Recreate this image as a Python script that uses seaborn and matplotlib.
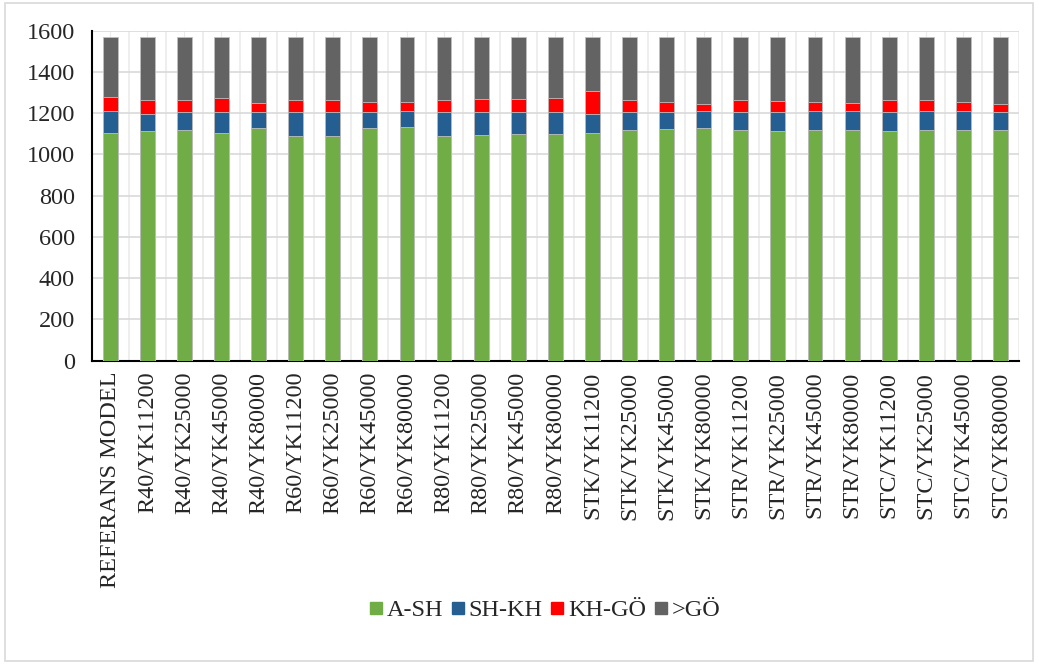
import numpy as np
import pandas as pd
import matplotlib
matplotlib.use("Agg")
import matplotlib.pyplot as plt
from matplotlib.patches import Rectangle
from matplotlib.lines import Line2D
import seaborn as sns

categories = ['REFERANS MODEL',
              'R40/YK11200', 'R40/YK25000', 'R40/YK45000', 'R40/YK80000',
              'R60/YK11200', 'R60/YK25000', 'R60/YK45000', 'R60/YK80000',
              'R80/YK11200', 'R80/YK25000', 'R80/YK45000', 'R80/YK80000',
              'STK/YK11200', 'STK/YK25000', 'STK/YK45000', 'STK/YK80000',
              'STR/YK11200', 'STR/YK25000', 'STR/YK45000', 'STR/YK80000',
              'STC/YK11200', 'STC/YK25000', 'STC/YK45000', 'STC/YK80000']

a_sh = [1104, 1114, 1119, 1106, 1127, 1090, 1090, 1128, 1131, 1091, 1096, 1099, 1101,
        1106, 1117, 1123, 1128, 1117, 1114, 1119, 1119, 1116, 1119, 1119, 1119]
sh_kh = [107, 84, 85, 101, 77, 114, 114, 78, 78, 115, 110, 107, 105,
         92, 87, 84, 83, 87, 92, 90, 90, 90, 92, 90, 88]
kh_go = [66, 64, 62, 65, 44, 62, 58, 47, 44, 60, 64, 64, 66,
         108, 62, 46, 35, 62, 53, 44, 42, 60, 51, 47, 39]
gt_go = [291, 306, 302, 296, 320, 302, 306, 315, 315, 302, 298, 298, 296,
         262, 302, 315, 322, 302, 309, 315, 317, 302, 306, 312, 322]

series = ['A-SH', 'SH-KH', 'KH-GÖ', '>GÖ']
colors = ['#70ad47', '#255e91', '#ff0000', '#636363']

df = pd.DataFrame({'cat': categories, 'A-SH': a_sh, 'SH-KH': sh_kh,
                   'KH-GÖ': kh_go, '>GÖ': gt_go})
cum = df[series].cumsum(axis=1)

sns.set_style('white')
plt.rcParams['font.family'] = ['Liberation Serif', 'DejaVu Serif']
fs = 17.5

fig = plt.figure(figsize=(10.38, 6.64), dpi=100)
ax = fig.add_axes([0.0883, 0.4568, 0.8934, 0.497])

# stacked bars: draw cumulative totals, largest first
for s, c in reversed(list(zip(series, colors))):
    sns.barplot(x=df['cat'], y=cum[s], color=c, width=0.4, ax=ax,
                edgecolor='#bfbfbf', linewidth=0.6, saturation=1, zorder=3)

ax.set_ylim(0, 1600)
ax.set_xlim(-0.5, len(categories) - 0.5)
ax.set_yticks(range(0, 1601, 200))
ax.set_xlabel('')
ax.set_ylabel('')
ax.tick_params(axis='y', labelsize=fs, length=0, pad=12)
ax.tick_params(axis='x', labelsize=fs, length=0, pad=8)
plt.setp(ax.get_xticklabels(), rotation=90)

ax.set_xticks(np.arange(-0.5, len(categories)), minor=True)
ax.grid(axis='y', color='#d9d9d9', linewidth=1.2, zorder=0)
ax.grid(axis='x', which='minor', color='#ebebeb', linewidth=1.2, zorder=0)
ax.grid(axis='x', which='major', color='#ebebeb', linewidth=0.8, zorder=0)
ax.tick_params(which='minor', length=0)
ax.set_axisbelow(True)

for side in ['top', 'right']:
    ax.spines[side].set_visible(False)
ax.spines['left'].set_color('black')
ax.spines['left'].set_linewidth(1.5)
ax.spines['bottom'].set_color('black')
ax.spines['bottom'].set_linewidth(1.5)

handles = [Line2D([0], [0], marker='s', linestyle='', markersize=8,
                  markerfacecolor=c, markeredgecolor=c) for c in colors]
fig.legend(handles, series, loc='center', bbox_to_anchor=(0.525, 0.081), ncol=4,
           frameon=False, fontsize=fs, handletextpad=0.2, columnspacing=0.35,
           handlelength=0.5)

fig.patches.append(Rectangle((0.005, 0.005), 0.99, 0.99, transform=fig.transFigure,
                             fill=False, edgecolor='#d9d9d9', linewidth=1.2))

fig.savefig('out.png', dpi=100)
